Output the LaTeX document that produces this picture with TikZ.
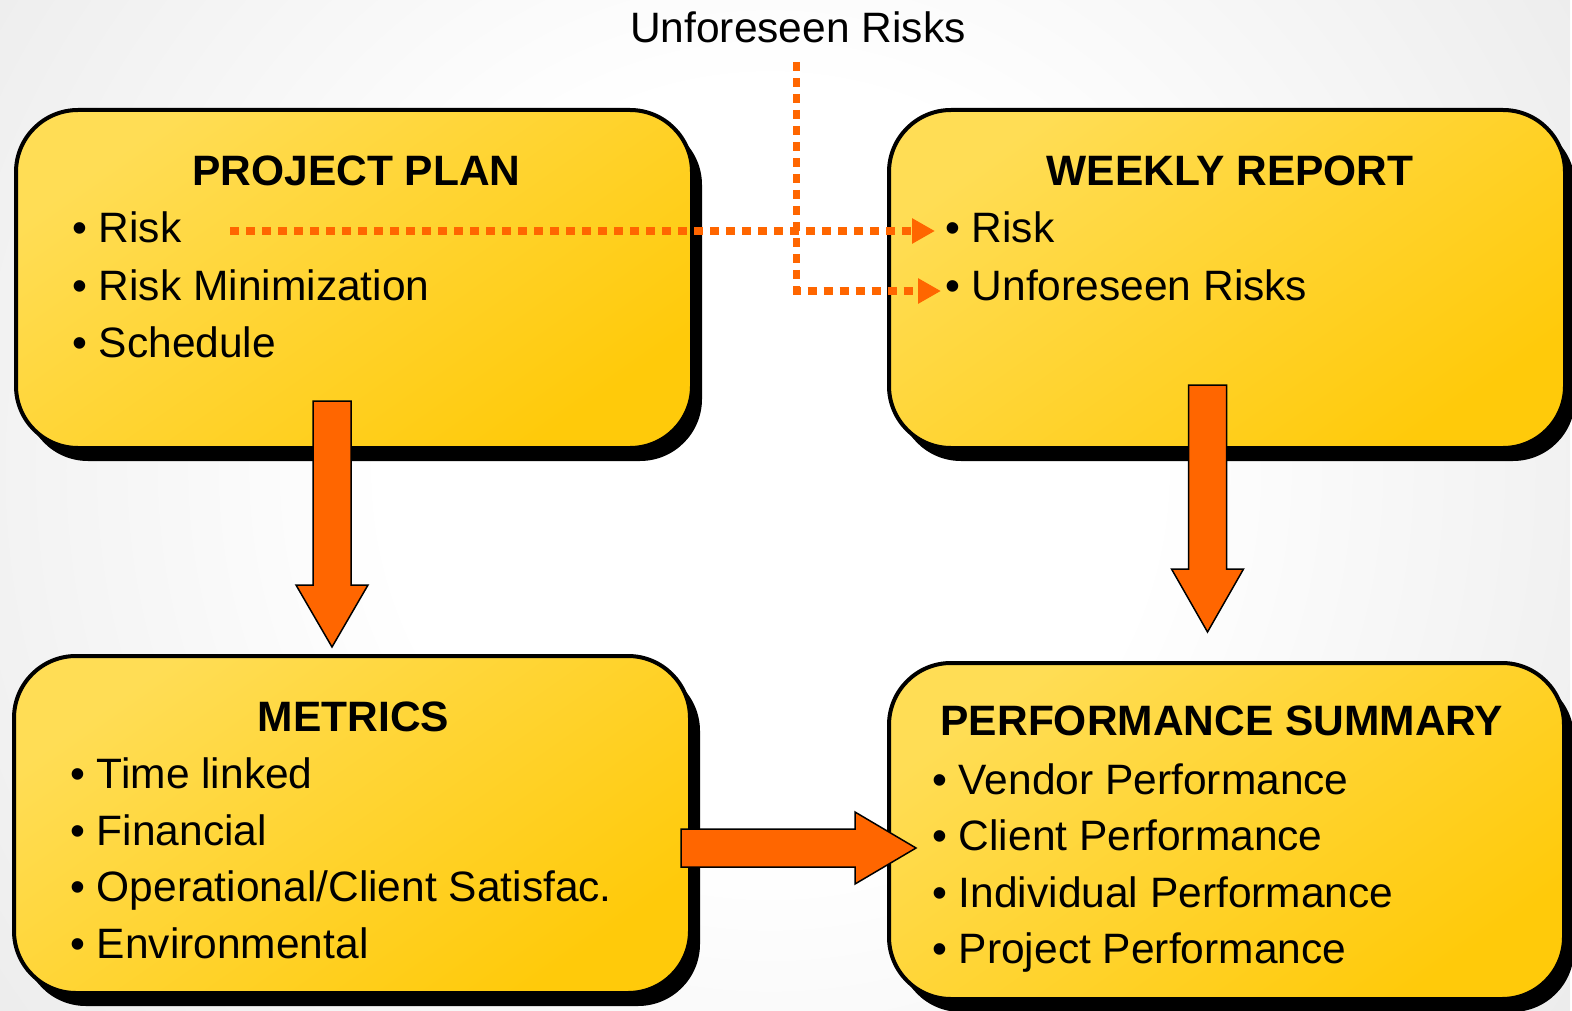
\documentclass[tikz,border=0pt]{standalone}
\usepackage{fontspec}
\setmainfont{Liberation Sans}
\usetikzlibrary{shadows,arrows.meta,calc}
\definecolor{ylight}{HTML}{FFDD55}
\definecolor{ydark}{HTML}{FFCA0A}
\definecolor{orng}{HTML}{FF6600}
\pgfdeclareradialshading{bgshade}{\pgfpointorigin}{color(0bp)=(white); color(12bp)=(white); color(29bp)=(black!7); color(50bp)=(black!15); color(58bp)=(black!18); color(71bp)=(black!20)}
\newcommand{\vdownarrow}[3]{% start, tip, head length
  \draw[bigarrow] ($(#1)+(-19,0)$) -- ($(#1)+(19,0)$) -- ($(#2)+(19,-#3)$) -- ($(#2)+(36,-#3)$) -- (#2) -- ($(#2)+(-36,-#3)$) -- ($(#2)+(-19,-#3)$) -- cycle;}
\newcommand{\hrightarrow}[3]{%
  \draw[bigarrow] ($(#1)+(0,-19)$) -- ($(#2)+(-#3,-19)$) -- ($(#2)+(-#3,-36)$) -- (#2) -- ($(#2)+(-#3,36)$) -- ($(#2)+(-#3,19)$) -- ($(#1)+(0,19)$) -- cycle;}
\begin{document}
\begin{tikzpicture}[x=1pt,y=-1pt,
  box/.style={draw=black, line width=4pt, rounded corners=62pt, inner sep=0pt,
    top color=ylight, bottom color=ydark, shading angle=35,
    drop shadow={shadow xshift=10pt, shadow yshift=-13pt, fill=black, opacity=1}},
  bigarrow/.style={fill=orng, draw=black, line width=1.5pt, line join=miter},
  dotline/.style={draw=orng, line width=7.5pt, dash pattern=on 9pt off 7pt,
    -{Triangle[length=23pt,width=24pt]}},
  item/.style={anchor=base west, inner sep=0pt, font=\fontsize{42.5}{50}\selectfont},
  ttl/.style={anchor=base, inner sep=0pt, font=\fontsize{42.5}{50}\selectfont\bfseries},
]
\useasboundingbox (0,0) rectangle (1572,1011);
\clip (0,0) rectangle (1572,1011);
\shade[shading=bgshade] (-30,-330) rectangle (1570,1270);

% boxes
\node[box, minimum width=676pt, minimum height=338pt] (pp) at (354,279) {};
\node[box, minimum width=676pt, minimum height=338pt] (wr) at (1227,279) {};
\node[box, minimum width=676pt, minimum height=337pt] (m)  at (352,824.5) {};
\node[box, minimum width=675pt, minimum height=336pt] (ps) at (1226.5,831) {};

% big arrows
\coordinate (a1s) at (332,401);    \coordinate (a1e) at (332,647);
\coordinate (a2s) at (1207.5,385); \coordinate (a2e) at (1207.5,632);
\coordinate (a3s) at (681,848);    \coordinate (a3e) at (916,848);
\vdownarrow{a1s}{a1e}{62}
\vdownarrow{a2s}{a2e}{63}
\hrightarrow{a3s}{a3e}{61}

% texts
\node[item] (ur) at (630,43) {Unforeseen Risks};

\node[ttl] (ppt) at (356.5,186) {PROJECT PLAN};
\node[item] (pp1) at (72,243) {• Risk};
\node[item] (pp2) at (72,300) {• Risk Minimization};
\node[item] (pp3) at (72,357) {• Schedule};

\node[ttl] (wrt) at (1230,186) {WEEKLY REPORT};
\node[item] (wr1) at (945,243) {• Risk};
\node[item] (wr2) at (945,300) {• Unforeseen Risks};

\node[ttl] (mt) at (353.5,731) {METRICS};
\node[item] (m1) at (70,788) {• Time linked};
\node[item] (m2) at (70,845) {• Financial};
\node[item] (m3) at (70,901) {• Operational/Client Satisfac.};
\node[item] (m4) at (70,958) {• Environmental};

\node[ttl] (pst) at (1222,735) {PERFORMANCE SUMMARY};
\node[item] (ps1) at (932,794) {• Vendor Performance};
\node[item] (ps2) at (932,850) {• Client Performance};
\node[item] (ps3) at (932,907) {• Individual Performance};
\node[item] (ps4) at (932,963) {• Project Performance};

% dotted connectors
\coordinate (r1) at (230,231);   \coordinate (r2) at (935,231);
\coordinate (u1) at (796.5,62);  \coordinate (u2) at (941,291);
\draw[dotline] (r1) -- (r2);
\draw[dotline] (u1) |- (u2);
\end{tikzpicture}
\end{document}
